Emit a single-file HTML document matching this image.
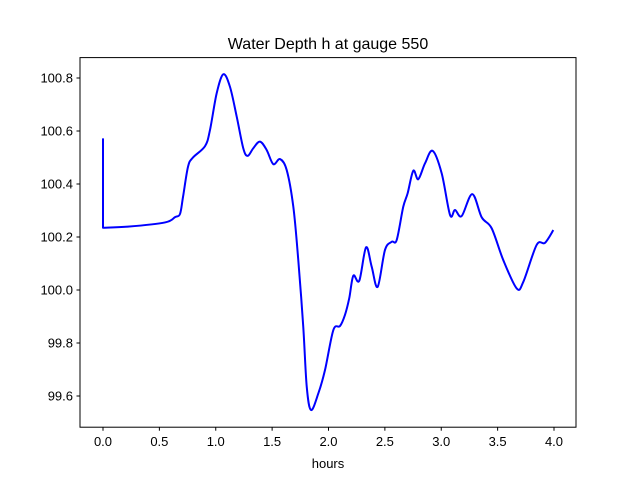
<!DOCTYPE html>
<html><head><meta charset="utf-8"><style>
body{margin:0;background:#fff;font-family:"Liberation Sans",sans-serif}
text{font-family:"Liberation Sans",sans-serif;fill:#000}
</style></head><body>
<svg id="chart" width="640" height="480" xmlns="http://www.w3.org/2000/svg">
<rect width="640" height="480" fill="#fff"/>
<text x="328" y="49" font-size="16" text-anchor="middle">Water Depth h at gauge 550</text>
<text x="328" y="468" font-size="13" text-anchor="middle">hours</text>
<g id="ticks"></g>
<path id="line" fill="none" stroke="#0000ff" stroke-width="2" stroke-linejoin="round"/>
<rect x="80" y="57.6" width="496" height="369.6" fill="none" stroke="#000" stroke-width="1"/>
</svg>
<script>
const times=[0,0,0.222,0.550,0.639,0.683,0.710,0.754,0.796,0.905,0.949,1.008,1.067,1.126,1.186,1.244,1.283,1.333,1.392,1.452,1.510,1.570,1.629,1.688,1.732,1.776,1.807,1.845,1.910,1.969,2.043,2.102,2.146,2.184,2.220,2.273,2.333,2.383,2.436,2.501,2.561,2.605,2.663,2.702,2.752,2.796,2.856,2.924,3.004,3.078,3.122,3.181,3.275,3.359,3.447,3.550,3.669,3.728,3.846,3.920,3.994];
const depths=[100.572,100.235,100.239,100.255,100.275,100.287,100.352,100.465,100.499,100.543,100.604,100.742,100.814,100.767,100.654,100.535,100.506,100.535,100.560,100.528,100.475,100.494,100.453,100.314,100.113,99.862,99.635,99.547,99.610,99.698,99.849,99.864,99.906,99.969,100.054,100.035,100.161,100.088,100.012,100.151,100.182,100.189,100.314,100.365,100.450,100.418,100.478,100.525,100.440,100.283,100.302,100.279,100.362,100.274,100.233,100.113,100.006,100.031,100.170,100.178,100.226];
const xTicks=[0,0.5,1,1.5,2,2.5,3,3.5,4];
const xTickLabels=["0.0","0.5","1.0","1.5","2.0","2.5","3.0","3.5","4.0"];
const yTicks=[99.6,99.8,100.0,100.2,100.4,100.6,100.8];
const yTickLabels=["99.6","99.8","100.0","100.2","100.4","100.6","100.8"];
const X=t=>103+t*112.75, Y=h=>78-(h-100.8)*265;
const ns="http://www.w3.org/2000/svg", g=document.getElementById('ticks');
function mk(tag,a){const e=document.createElementNS(ns,tag);for(const k in a)e.setAttribute(k,a[k]);g.appendChild(e);return e;}
xTicks.forEach((v,i)=>{const x=X(v);
 const l=mk('line',{x1:x,x2:x,y1:427.2,y2:430.7,stroke:'#000'});
 
 
 const t=mk('text',{x:x,y:446,'font-size':13,'text-anchor':'middle'});t.textContent=xTickLabels[i];
 
 });
yTicks.forEach((v,i)=>{const y=Y(v);
 const l=mk('line',{x1:76.5,x2:80,y1:y,y2:y,stroke:'#000'});
 
 
 const t=mk('text',{x:73,y:y+4.5,'font-size':13,'text-anchor':'end'});t.textContent=yTickLabels[i];
 
 });
const P=times.map((t,i)=>[X(t),Y(depths[i])]);
let d=`M${P[0][0]},${P[0][1]}L${P[1][0]},${P[1][1]}`;
for(let i=1;i<P.length-1;i++){const p0=P[Math.max(i-1,1)],p1=P[i],p2=P[i+1],p3=P[Math.min(i+2,P.length-1)];
 const c1=[p1[0]+(p2[0]-p0[0])/6,p1[1]+(p2[1]-p0[1])/6],c2=[p2[0]-(p3[0]-p1[0])/6,p2[1]-(p3[1]-p1[1])/6];
 d+=`C${c1[0]},${c1[1]} ${c2[0]},${c2[1]} ${p2[0]},${p2[1]}`;}
document.getElementById('line').setAttribute('d',d);
</script>
</body></html>
